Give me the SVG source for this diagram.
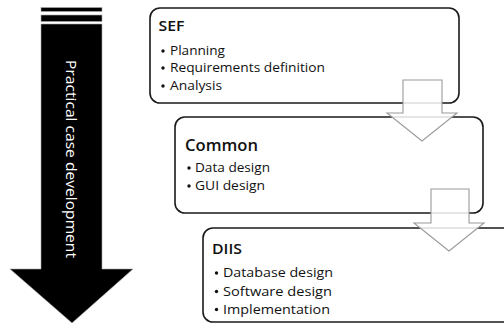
<svg xmlns="http://www.w3.org/2000/svg" width="504" height="324" viewBox="0 0 504 324">
<style>
.box{fill:#fff;stroke:#1a1a1a;stroke-width:1.6}
.conn{fill:#fff;fill-opacity:0.85;stroke:#9a9a9a;stroke-width:1.1;stroke-linejoin:miter}
.title{font-family:"Open Sans","Liberation Sans",sans-serif;fill:#111;font-weight:600}
.item{font-family:"Open Sans","Liberation Sans",sans-serif;fill:#111;font-size:13px}
.dot{fill:#111}
.vert{font-family:"Open Sans","Liberation Sans",sans-serif;fill:#fff;font-size:14.5px}
</style>
<rect width="504" height="324" fill="#fff"/>
<g id="timeline">
<rect x="41" y="7.5" width="61" height="4" fill="#000" stroke="#aaa" stroke-width="0.6"/>
<rect x="41" y="15" width="61" height="6.5" fill="#000" stroke="#aaa" stroke-width="0.6"/>
<polygon points="41,24 102,24 102,269 133,269 72,323 10,269 41,269" fill="#000" stroke="#aaa" stroke-width="0.6"/>
<text class="vert" transform="translate(66,60) rotate(90)" textLength="198" lengthAdjust="spacingAndGlyphs">Practical case development</text>
</g>
<g id="sef">
<rect class="box" x="150" y="8" width="309" height="95" rx="10"/>
<text class="title" x="158.5" y="30.5" font-size="14.5" textLength="26" lengthAdjust="spacingAndGlyphs">SEF</text>
<circle class="dot" cx="163" cy="51" r="1.7"/>
<text class="item" x="170" y="55" textLength="55" lengthAdjust="spacingAndGlyphs">Planning</text>
<circle class="dot" cx="163" cy="68" r="1.7"/>
<text class="item" x="170" y="72" textLength="155" lengthAdjust="spacingAndGlyphs">Requirements definition</text>
<circle class="dot" cx="163" cy="86" r="1.7"/>
<text class="item" x="170" y="90" textLength="52" lengthAdjust="spacingAndGlyphs">Analysis</text>
</g>
<g id="common">
<rect class="box" x="175" y="117" width="308" height="96" rx="10"/>
<text class="title" x="185" y="151" font-size="16.5" textLength="73" lengthAdjust="spacingAndGlyphs">Common</text>
<circle class="dot" cx="189" cy="168" r="1.7"/>
<text class="item" x="195" y="172" textLength="75" lengthAdjust="spacingAndGlyphs">Data design</text>
<circle class="dot" cx="189" cy="186" r="1.7"/>
<text class="item" x="195" y="190" textLength="70" lengthAdjust="spacingAndGlyphs">GUI design</text>
</g>
<g id="diis">
<rect class="box" x="203" y="228" width="310" height="94" rx="10"/>
<text class="title" x="212" y="253.5" font-size="14.5" textLength="30" lengthAdjust="spacingAndGlyphs">DIIS</text>
<circle class="dot" cx="216.5" cy="273" r="1.7"/>
<text class="item" x="223" y="277" textLength="110" lengthAdjust="spacingAndGlyphs">Database design</text>
<circle class="dot" cx="216.5" cy="291.5" r="1.7"/>
<text class="item" x="223" y="295.5" textLength="109" lengthAdjust="spacingAndGlyphs">Software design</text>
<circle class="dot" cx="216.5" cy="309.5" r="1.7"/>
<text class="item" x="223" y="313.5" textLength="107" lengthAdjust="spacingAndGlyphs">Implementation</text>
</g>
<g id="connectors">
<polygon class="conn" points="403,80 442,80 442,113 457,113 422,141 387,113 403,113"/>
<polygon class="conn" points="431,189 469,189 469,223 484,223 449,251 414,223 431,223"/>
</g>
</svg>
